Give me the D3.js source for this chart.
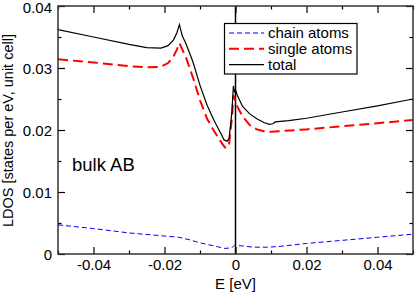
<!DOCTYPE html>
<html><head><meta charset="utf-8">
<script src="https://cdn.jsdelivr.net/npm/d3@7"></script>
<style>
body{margin:0;background:#fff;}
svg{display:block;font-family:"Liberation Sans",Arial,sans-serif;}
</style></head><body>
<svg id="c" width="415" height="295"></svg>
<script>
const totalE = [-0.05,-0.04,-0.03,-0.025,-0.021,-0.019,-0.0175,-0.0165,-0.0158,-0.015,-0.014,-0.012,-0.010,-0.008,-0.006,-0.004,-0.0032,-0.0024,-0.0018,-0.001,-0.0006,-0.0003,0.0,0.0005,0.001,0.002,0.004,0.006,0.008,0.0095,0.0105,0.0112,0.015,0.02,0.03,0.04,0.05];
const totalV = [0.0362,0.0350,0.0338,0.0333,0.0332,0.0336,0.0345,0.0357,0.0370,0.0352,0.0340,0.0310,0.0272,0.0240,0.0215,0.0193,0.0184,0.0182,0.0186,0.0230,0.0271,0.0262,0.0265,0.0256,0.0250,0.0238,0.0226,0.0218,0.0212,0.0209,0.0210,0.0213,0.0215,0.0219,0.0229,0.0239,0.0250];
const singleE = [-0.05,-0.04,-0.03,-0.025,-0.021,-0.019,-0.0175,-0.0165,-0.0158,-0.015,-0.014,-0.012,-0.010,-0.008,-0.006,-0.004,-0.003,-0.0024,-0.0018,-0.001,-0.0006,-0.0002,0.0005,0.002,0.004,0.006,0.008,0.010,0.012,0.02,0.03,0.04,0.05];
const singleV = [0.0314,0.0309,0.0303,0.0301,0.0302,0.0308,0.0318,0.0330,0.0340,0.0330,0.0318,0.0285,0.0248,0.0218,0.0198,0.0180,0.0172,0.0171,0.0178,0.0220,0.0256,0.0250,0.0238,0.0222,0.0208,0.0201,0.0198,0.0197,0.0198,0.0201,0.0206,0.0211,0.0216];
const chainE = [-0.05,-0.04,-0.03,-0.02,-0.016,-0.013,-0.01,-0.006,-0.003,-0.001,-0.0003,0.002,0.005,0.009,0.012,0.02,0.03,0.04,0.05];
const chainV = [0.0047,0.0041,0.0034,0.0029,0.0027,0.0023,0.0018,0.0013,0.0009,0.0010,0.0014,0.0013,0.0011,0.0011,0.0012,0.0017,0.0022,0.0027,0.0032];
const xMajor = [-0.04,-0.02,0,0.02,0.04];
const xMinor = [-0.05,-0.03,-0.01,0.01,0.03,0.05];
const yMajor = [0,0.01,0.02,0.03,0.04];
const yMinor = [0.005,0.015,0.025,0.035];
const legendLabels = ["chain atoms","single atoms","total"];
const xLabel = "E [eV]";
const yLabel = "LDOS [states per eV, unit cell]";
const annotation = "bulk AB";

const svg = d3.select("#c");
const L=58, R=413, T=6, B=254;
const x = d3.scaleLinear().domain([-0.05,0.05]).range([L,R]);
const y = d3.scaleLinear().domain([0,0.04]).range([B,T]);
const fmt = d => d===0 ? "0" : d3.format(".2f")(d).replace("\u2212","-");

function axis(gen, tr, vals, size, labels){
  const g = svg.append("g").attr("transform",tr)
    .call(gen.tickValues(vals).tickSizeInner(size).tickSizeOuter(0).tickPadding(4)
      .tickFormat(labels ? fmt : ""));
  g.select(".domain").remove();
  g.selectAll(".tick line").attr("stroke","#000").attr("stroke-width",1.2);
  g.selectAll("text").attr("font-size",15).attr("fill","#000").attr("font-family","Liberation Sans,Arial,sans-serif");
  return g;
}
const gb = axis(d3.axisBottom(x), `translate(0,${B})`, xMajor, -7, true);
gb.selectAll("text").attr("y",5).attr("dy","0.72em");
axis(d3.axisBottom(x), `translate(0,${B})`, xMinor, -3.5, false);
axis(d3.axisTop(x), `translate(0,${T})`, xMajor, -7, false);
axis(d3.axisTop(x), `translate(0,${T})`, xMinor, -3.5, false);
const gl = axis(d3.axisLeft(y), `translate(${L},0)`, yMajor, -7, true);
gl.selectAll("text").attr("x",-6).attr("dy", d => d===0.04 ? "0.45em" : "0.35em");
axis(d3.axisLeft(y), `translate(${L},0)`, yMinor, -3.5, false);
axis(d3.axisRight(y), `translate(${R},0)`, yMajor, -7, false);
axis(d3.axisRight(y), `translate(${R},0)`, yMinor, -3.5, false);

svg.append("line").attr("x1",x(0)).attr("x2",x(0)).attr("y1",T).attr("y2",B)
  .attr("stroke","#000").attr("stroke-width",1.5);

const line = d3.line().x(d=>x(d[0])).y(d=>y(d[1]));
svg.append("clipPath").attr("id","cl").append("rect")
  .attr("x",L).attr("y",T).attr("width",R-L).attr("height",B-T);
svg.append("path").datum(d3.zip(chainE,chainV)).attr("d",line).attr("fill","none")
  .attr("stroke","#0000ff").attr("stroke-width",1).attr("stroke-dasharray","5,3").attr("clip-path","url(#cl)");
svg.append("path").datum(d3.zip(singleE,singleV)).attr("d",line).attr("fill","none")
  .attr("stroke","#ff0000").attr("stroke-width",2).attr("stroke-dasharray","10,5").attr("clip-path","url(#cl)");
svg.append("path").datum(d3.zip(totalE,totalV)).attr("d",line).attr("fill","none")
  .attr("stroke","#000").attr("stroke-width",1.2).attr("clip-path","url(#cl)");

svg.append("rect").attr("x",L).attr("y",T).attr("width",R-L).attr("height",B-T)
  .attr("fill","none").attr("stroke","#333").attr("stroke-width",1.5);

const lg = svg.append("g");
lg.append("rect").attr("x",224.5).attr("y",23.5).attr("width",132.5).attr("height",50.5)
  .attr("fill","#fff").attr("stroke","#000").attr("stroke-width",1.2);
const styles = [
  {c:"#0000ff",w:1,d:"5,3"},
  {c:"#ff0000",w:2,d:"10,5"},
  {c:"#000",w:1.2,d:null}
];
legendLabels.forEach((t,i)=>{
  const yy = 33 + i*15.8;
  lg.append("line").attr("x1",229).attr("x2",264).attr("y1",yy).attr("y2",yy)
    .attr("stroke",styles[i].c).attr("stroke-width",styles[i].w).attr("stroke-dasharray",styles[i].d);
  lg.append("text").attr("x",268).attr("y",yy+5.2).attr("font-size",15).text(t);
});

svg.append("text").attr("x",72).attr("y",171).attr("font-size",18.5).text(annotation);
svg.append("text").attr("x",x(0)).attr("y",289).attr("text-anchor","middle").attr("font-size",15).text(xLabel);
svg.append("text").attr("transform","translate(13,130.5) rotate(-90)").attr("text-anchor","middle")
  .attr("font-size",14.5).text(yLabel);
</script>
</body></html>
